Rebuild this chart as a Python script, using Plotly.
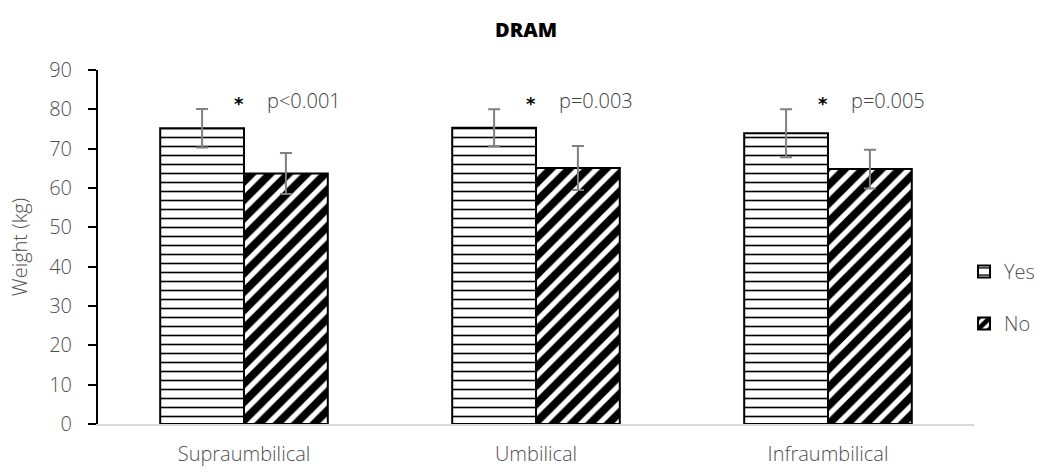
import plotly.graph_objects as go

categories = ["Supraumbilical", "Umbilical", "Infraumbilical"]
yes_vals = [75.2, 75.3, 73.9]
yes_err = [4.9, 4.7, 6.1]
no_vals = [63.7, 65.1, 64.8]
no_err = [5.2, 5.6, 4.9]
p_labels = ["p<0.001", "p=0.003", "p=0.005"]
y_ticks = [0, 10, 20, 30, 40, 50, 60, 70, 80, 90]

FONT = "Open Sans"
GRAY_TXT = "#505050"

fig = go.Figure()
fig.add_trace(go.Bar(
    name="Yes", x=categories, y=yes_vals, legendgroup="a",
    marker=dict(color="white", line=dict(color="black", width=2),
                pattern=dict(shape="-", fgcolor="black", fgopacity=1, bgcolor="white", size=9, solidity=0.18)),
    error_y=dict(type="data", array=yes_err, color="#808080", thickness=2, width=6),
))
fig.add_trace(go.Bar(
    name="No", x=categories, y=no_vals, legendgroup="b",
    marker=dict(color="white", line=dict(color="black", width=2),
                pattern=dict(shape="/", fgcolor="black", fgopacity=1, bgcolor="white", size=13, solidity=0.6)),
    error_y=dict(type="data", array=no_err, color="#808080", thickness=2, width=6),
))

for c, p in zip(categories, p_labels):
    fig.add_annotation(x=c, y=81.5, text="<b>*</b>", showarrow=False, xshift=-5, yshift=0,
                       font=dict(family="DejaVu Sans", size=18, color="black"), xanchor="center", yanchor="middle")
    fig.add_annotation(x=c, y=82.3, text=p, showarrow=False, xshift=21,
                       font=dict(family=FONT, size=20, color="#404040", weight=300), xanchor="left", yanchor="middle")

fig.update_layout(
    width=1052, height=473,
    margin=dict(l=98, r=76, t=70, b=49),
    paper_bgcolor="white", plot_bgcolor="white",
    barmode="group", bargap=0.426, bargroupgap=0,
    font=dict(family=FONT, size=20, color=GRAY_TXT, weight=300),
    title=dict(text="DRAM", x=0.5, xref="container", xanchor="center",
               y=1 - 30 / 473, yanchor="middle",
               font=dict(family=FONT, size=20, color="black", weight=800)),
    legend=dict(x=(966 - 98) / 878, xanchor="left", y=(424 - 252) / 354, yanchor="top",
                tracegroupgap=23, itemwidth=30,
                font=dict(family=FONT, size=20, color=GRAY_TXT, weight=300),
                bgcolor="rgba(0,0,0,0)"),
    showlegend=True,
)
fig.update_yaxes(range=[0, 90], tickvals=y_ticks, showgrid=False, zeroline=False,
                 automargin=False,
                 showline=True, linecolor="black", linewidth=2,
                 ticks="outside", ticklen=8, tickwidth=1.5, tickcolor="black",
                 ticklabelstandoff=12,
                 tickfont=dict(family=FONT, size=20, color=GRAY_TXT, weight=300),
                 title=dict(text="Weight (kg)", font=dict(family=FONT, size=20, color=GRAY_TXT, weight=300), standoff=16))
fig.update_xaxes(showline=True, linecolor="#d9d9d9", linewidth=2, ticks="", automargin=False,
                 tickfont=dict(family=FONT, size=20, color=GRAY_TXT, weight=300), ticklabelstandoff=11)

fig.write_html("out.html", config={"displayModeBar": False},
               post_script="document.body.style.margin='0px';")
